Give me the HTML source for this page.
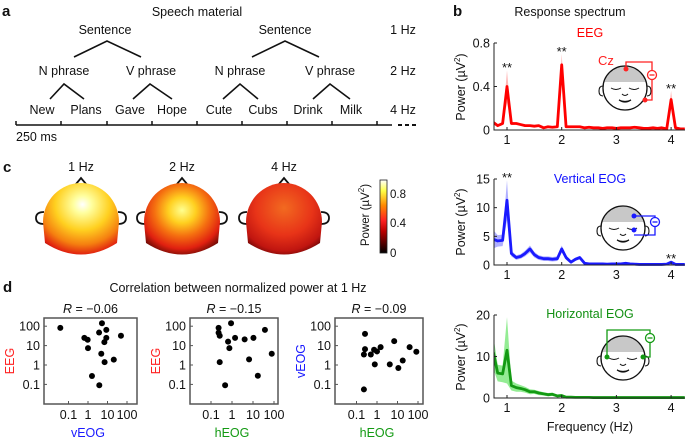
<!DOCTYPE html>
<html><head><meta charset="utf-8">
<style>
html,body{margin:0;padding:0;background:#fff;}
svg{display:block;font-family:"Liberation Sans",Arial,sans-serif;}
text{fill:#111;}
</style></head>
<body>
<svg id="fig" width="685" height="438" viewBox="0 0 685 438">
<defs>
<linearGradient id="hot" x1="0" y1="1" x2="0" y2="0">
<stop offset="0" stop-color="#000"/><stop offset="0.3" stop-color="#b00"/><stop offset="0.45" stop-color="#f22"/><stop offset="0.65" stop-color="#f80"/><stop offset="0.85" stop-color="#ff4"/><stop offset="1" stop-color="#fff"/>
</linearGradient>
<radialGradient id="g1" cx="0.52" cy="0.3" r="0.8">
<stop offset="0" stop-color="#fff"/><stop offset="0.15" stop-color="#ffffa0"/><stop offset="0.45" stop-color="#ffd020"/><stop offset="0.7" stop-color="#f58010"/><stop offset="0.88" stop-color="#e02010"/><stop offset="1" stop-color="#600"/>
</radialGradient>
<radialGradient id="g2" cx="0.5" cy="0.38" r="0.72">
<stop offset="0" stop-color="#ffff90"/><stop offset="0.25" stop-color="#ffd020"/><stop offset="0.5" stop-color="#f57010"/><stop offset="0.75" stop-color="#e02010"/><stop offset="1" stop-color="#300"/>
</radialGradient>
<radialGradient id="g3" cx="0.5" cy="0.35" r="0.75">
<stop offset="0" stop-color="#f26a20"/><stop offset="0.5" stop-color="#e83418"/><stop offset="0.8" stop-color="#c01510"/><stop offset="1" stop-color="#400"/>
</radialGradient>
</defs>

<!-- Panel a -->
<g>
<text x="2" y="16" font-size="15" font-weight="bold">a</text>
<text x="197" y="16" font-size="12.5" text-anchor="middle">Speech material</text>
<g font-size="12.5" text-anchor="middle">
<text x="105" y="34">Sentence</text>
<text x="285" y="34">Sentence</text>
<text x="403" y="34">1 Hz</text>
<text x="64" y="75">N phrase</text>
<text x="151" y="75">V phrase</text>
<text x="240" y="75">N phrase</text>
<text x="330" y="75">V phrase</text>
<text x="403" y="75">2 Hz</text>
<text x="42" y="114">New</text>
<text x="86" y="114">Plans</text>
<text x="130" y="114">Gave</text>
<text x="172" y="114">Hope</text>
<text x="219" y="114">Cute</text>
<text x="263" y="114">Cubs</text>
<text x="308" y="114">Drink</text>
<text x="351" y="114">Milk</text>
<text x="403" y="114">4 Hz</text>
</g>
<g stroke="#111" stroke-width="1.6" fill="none">
<path d="M74,57 L107,41 L141,57"/><path d="M252,57 L285,41 L319,57"/>
<path d="M50,99 L64,84 L84,99"/><path d="M133,99 L150,84 L172,99"/>
<path d="M223,99 L240,84 L258,99"/><path d="M313,99 L330,84 L350,99"/>
</g>
<g stroke="#111" stroke-width="1.5">
<line x1="16" y1="125" x2="392" y2="125"/>
<path d="M16,121V125M61,121V125M107,121V125M152,121V125M197,121V125M242,121V125M287,121V125M332,121V125M377,121V125"/>
<path d="M398,125H402M405,125H409M412,125H416" stroke-width="2"/>
</g>
<text x="16" y="141" font-size="12.5">250 ms</text>
</g>

<!-- Panel b -->
<g>
<text x="453" y="16" font-size="15" font-weight="bold">b</text>
<text x="570" y="16" font-size="12.5" text-anchor="middle">Response spectrum</text>
<text x="590" y="37" font-size="12.5" text-anchor="middle" style="fill:#f00">EEG</text>
<text x="590" y="183" font-size="12.5" text-anchor="middle" style="fill:#1010ff">Vertical EOG</text>
<text x="590" y="318" font-size="12.5" text-anchor="middle" style="fill:#139013">Horizontal EOG</text>
<text transform="translate(465,87) rotate(-90)" font-size="12.5" text-anchor="middle">Power (µV<tspan font-size="8" dy="-5">2</tspan><tspan dy="5">)</tspan></text>
<text transform="translate(465,222) rotate(-90)" font-size="12.5" text-anchor="middle">Power (µV<tspan font-size="8" dy="-5">2</tspan><tspan dy="5">)</tspan></text>
<text transform="translate(465,357) rotate(-90)" font-size="12.5" text-anchor="middle">Power (µV<tspan font-size="8" dy="-5">2</tspan><tspan dy="5">)</tspan></text>
<text x="590" y="431" font-size="12.5" text-anchor="middle">Frequency (Hz)</text>
<g id="spectra"></g>
<g id="faces"></g>
</g>

<!-- Panel c -->
<g>
<text x="3" y="172" font-size="15" font-weight="bold">c</text>
<g id="heads"></g>
<rect x="380" y="180" width="7" height="73" fill="url(#hot)" stroke="#222" stroke-width="0.8"/>
<g font-size="11.5">
<text x="390" y="198">0.8</text>
<text x="390" y="227">0.4</text>
<text x="390" y="257">0</text>
</g>
<text transform="translate(369,215) rotate(-90)" font-size="11.5" text-anchor="middle">Power (µV<tspan font-size="8" dy="-5">2</tspan><tspan dy="5">)</tspan></text>
</g>

<!-- Panel d -->
<g>
<text x="3" y="292" font-size="15" font-weight="bold">d</text>
<text x="238" y="292" font-size="12.5" text-anchor="middle">Correlation between normalized power at 1 Hz</text>
<g id="scatters"></g>
</g>
</svg>
<script>
const NS="http://www.w3.org/2000/svg";
function mk(tag,attrs,parent){const e=document.createElementNS(NS,tag);for(const k in attrs)e.setAttribute(k,attrs[k]);parent.appendChild(e);return e;}

// ---- Spectrum data ----
const freqs=[0.75,0.83,0.92,1,1.08,1.17,1.25,1.33,1.42,1.5,1.58,1.67,1.75,1.83,1.92,2,2.08,2.17,2.25,2.33,2.42,2.5,2.58,2.67,2.75,2.83,2.92,3,3.08,3.17,3.25,3.33,3.42,3.5,3.58,3.67,3.75,3.83,3.92,4,4.08,4.17,4.25];
const eegPower=[0.07,0.04,0.06,0.40,0.06,0.06,0.05,0.04,0.04,0.035,0.04,0.02,0.03,0.025,0.03,0.60,0.03,0.03,0.03,0.03,0.02,0.025,0.02,0.02,0.015,0.02,0.02,0.015,0.02,0.02,0.02,0.025,0.02,0.015,0.015,0.02,0.015,0.02,0.01,0.28,0.02,0.01,0.01];
const eegErr=[0.02,0.01,0.015,0.15,0.015,0.01,0.01,0.01,0.01,0.01,0.01,0.01,0.01,0.01,0.01,0.10,0.01,0.01,0.01,0.01,0.01,0.01,0.01,0.01,0.01,0.01,0.01,0.01,0.01,0.01,0.01,0.01,0.01,0.01,0.01,0.01,0.01,0.01,0.01,0.08,0.01,0.01,0.01];
const veogPower=[4.5,4.2,4.3,11.3,2.0,1.3,1.5,2.0,2.8,1.8,1.3,1.1,1.1,1.0,1.1,2.8,1.3,0.5,1.0,1.3,0.3,0.2,0.2,0.2,0.2,0.15,0.2,0.2,0.2,0.3,0.2,0.15,0.1,0.1,0.1,0.1,0.1,0.1,0.15,0.5,0.1,0.1,0.1];
const veogErr=[1.6,1.0,1.0,3.5,0.5,0.4,0.4,0.5,0.6,0.5,0.4,0.4,0.4,0.4,0.4,0.6,0.4,0.3,0.3,0.3,0.2,0.15,0.1,0.1,0.1,0.1,0.1,0.1,0.1,0.1,0.1,0.1,0.1,0.1,0.1,0.1,0.1,0.1,0.1,0.2,0.1,0.1,0.1];
const heogPower=[11,6,5.8,11.5,3,2.5,2.3,2.0,1.5,1.5,1.2,1.0,0.8,0.9,0.5,0.6,0.2,0.2,0.15,0.15,0.15,0.15,0.1,0.1,0.1,0.1,0.1,0.1,0.1,0.1,0.1,0.1,0.1,0.1,0.1,0.1,0.1,0.1,0.1,0.1,0.1,0.1,0.1];
const heogErr=[4,2,2,8,1.2,1,0.8,0.7,0.6,0.5,0.5,0.4,0.4,0.4,0.3,0.3,0.2,0.15,0.1,0.1,0.1,0.1,0.1,0.1,0.1,0.1,0.1,0.1,0.1,0.1,0.1,0.1,0.1,0.1,0.1,0.1,0.1,0.1,0.1,0.1,0.1,0.1,0.1];
const freqTicks=[1,2,3,4];
const eegTicks=[0,0.4,0.8];
const veogTicks=[0,5,10,15];
const heogTicks=[0,10,20];
const eegStars=[1,2,4];
const veogStars=[1,4];

const xF=f=>507+(f-1)*54.7;
const spec=document.getElementById('spectra');
function panel(name,y0,y1,ymax,ticks,vals,errs,col,shade,stars){
  const yF=v=>y0-(v/ymax)*(y0-y1);
  const g=mk('g',{},spec);
  
  
  const clip=mk('clipPath',{id:'c'+name},g);mk('rect',{x:494,y:y1-10,width:191,height:y0-y1+12},clip);
  let up='',dn='';
  freqs.forEach((f,i)=>{up+=(i?'L':'M')+xF(f)+','+yF(vals[i]+errs[i]);});
  for(let i=freqs.length-1;i>=0;i--){dn+='L'+xF(freqs[i])+','+Math.min(y0,yF(Math.max(0,vals[i]-errs[i])));}
  const sh=mk('path',{d:up+dn+'Z',fill:shade,'clip-path':'url(#c'+name+')'},g);
  
  
  let d='';freqs.forEach((f,i)=>{d+=(i?'L':'M')+xF(f)+','+yF(vals[i]);});
  const ln=mk('path',{d:d,fill:'none',stroke:col,'stroke-width':2.8,'stroke-linejoin':'round','clip-path':'url(#c'+name+')'},g);
  
  
  const ax=mk('path',{d:'M494,'+(y1)+'V'+y0+'H685',fill:'none',stroke:'#222','stroke-width':1},g);
  
  
  ticks.forEach(t=>{
    mk('line',{x1:494,x2:497,y1:yF(t),y2:yF(t),stroke:'#222'},g);
    const tx=mk('text',{x:490,y:yF(t)+4.5,'font-size':12.5,'text-anchor':'end'},g);tx.textContent=t;
    
    
  });
  freqTicks.forEach(f=>{
    mk('line',{x1:xF(f),x2:xF(f),y1:y0,y2:y0-3,stroke:'#222'},g);
    const tx=mk('text',{x:xF(f),y:y0+14,'font-size':12.5,'text-anchor':'middle'},g);tx.textContent=f;
    
    
  });
  stars.forEach(f=>{
    const i=freqs.indexOf(f);
    const yy=yF(vals[i]+errs[i])-4;
    const s=mk('text',{x:xF(f),y:yy+6,'font-size':13,'text-anchor':'middle'},g);s.textContent='**';
    
    
  });
}
panel('eeg',130,43,0.8,eegTicks,eegPower,eegErr,'#f00','rgba(255,80,80,0.4)',eegStars);
panel('veog',265,179,15,veogTicks,veogPower,veogErr,'#1a1aff','rgba(80,80,255,0.45)',veogStars);
panel('heog',398,315,20,heogTicks,heogPower,heogErr,'#139a13','rgba(60,220,60,0.55)',[]);

// ---- faces ----
const faces=document.getElementById('faces');
function face(cx,cy,nm){
  const g=mk('g',{},faces);
  
  
  mk('path',{d:`M${cx-21},${cy-6} A22,22 0 0 1 ${cx+21},${cy-6} Z`,fill:'#c8c8c8'},g);
  mk('circle',{cx:cx,cy:cy,r:22,fill:'none',stroke:'#111','stroke-width':1.3},g);
  mk('path',{d:`M${cx-22},${cy-2} q-4,0 -4,5 q0,5 4,5 M${cx+22},${cy-2} q4,0 4,5 q0,5 -4,5`,fill:'none',stroke:'#111','stroke-width':1.1},g);
  mk('path',{d:`M${cx-14},${cy} q5,3 10,0 M${cx+4},${cy} q5,3 10,0`,fill:'none',stroke:'#111','stroke-width':1},g);
  mk('path',{d:`M${cx-3},${cy+6} q3,3 6,0`,fill:'none',stroke:'#111','stroke-width':1},g);
  mk('path',{d:`M${cx-6},${cy+12} q6,4 12,0 q-6,3 -12,0`,fill:'#111',stroke:'#111','stroke-width':1.2},g);
}
face(625,88,'eeg-electrode-face');face(623,228,'veog-electrode-face');face(623,358,'heog-electrode-face');
function wire(d,col,mx,my,dots,nm){
  const g=mk('g',{},faces);
  
  
  mk('path',{d:d,fill:'none',stroke:col,'stroke-width':1.3},g);
  mk('circle',{cx:mx,cy:my,r:4.5,fill:'#fff',stroke:col,'stroke-width':1.3},g);
  mk('line',{x1:mx-2.5,x2:mx+2.5,y1:my,y2:my,stroke:col,'stroke-width':1.3},g);
  dots.forEach(p=>mk('circle',{cx:p[0],cy:p[1],r:2.5,fill:col},g));
}
wire('M626,69V62H652V100H645','#f22',652,75,[[626,69],[645,100]],'eeg-montage');
wire('M634,216H655V235H634','#1a1aff',655,222,[[634,216],[634,230]],'veog-montage');
wire('M607,357V330H650V357H643','#139a13',650,338,[[607,357],[643,357]],'heog-montage');
const cz=mk('text',{x:598,y:65,'font-size':13,style:'fill:#f22'},faces);cz.textContent='Cz';



// ---- topographic heads ----
const headFreqs=['1 Hz','2 Hz','4 Hz'];
const headCenters=[81,182,284];
const headFills=['url(#g1)','url(#g2)','url(#g3)'];
const heads=document.getElementById('heads');
headFreqs.forEach((lab,i)=>{
  const cx=headCenters[i];
  const g=mk('g',{},heads);
  
  
  const t=mk('text',{x:cx,y:171,'font-size':12.5,'text-anchor':'middle'},g);t.textContent=lab;
  mk('path',{d:`M${cx-5},184 L${cx},178 L${cx+5},184`,fill:'none',stroke:'#111','stroke-width':1.8},g);
  mk('path',{d:`M${cx-37},212 q-8,0 -8,6 q0,6 8,6 M${cx+37},212 q8,0 8,6 q0,6 -8,6`,fill:'none',stroke:'#111','stroke-width':1.8},g);
  mk('path',{d:`M${cx-38},222 A38,39 0 0 1 ${cx+38},222 L${cx+36},243 Q${cx},266 ${cx-36},243 Z`,fill:headFills[i]},g);
});

// ---- scatter data ----
const s1x=[0.038,0.65,0.96,1,3.7,5.2,4.8,6.9,8.7,8.7,7.1,1.6,3.8,21,49];
const s1y=[82,25,20,7.4,47,142,3.8,15,65,25,1.4,0.27,0.09,1.9,32];
const s2x=[0.23,0.23,0.26,0.9,0.65,0.75,1.4,4,10.5,37,0.26,6.5,78,17,0.47];
const s2y=[82,46,32,142,16,7.4,25,21,25,65,1.4,1.95,3.8,0.28,0.09];
const s3x=[0.26,0.26,0.23,0.5,0.72,1,1.5,6.9,39,83,0.78,4.2,11,18,0.23];
const s3y=[40,6.6,3.5,3.5,6.1,5,8.4,17,8.4,4.8,1.08,1.08,0.7,1.7,0.055];
const logTicks=[0.1,1,10,100];
const rLabels=['−0.06','−0.15','−0.09'];
const yNames=['EEG','EEG','vEOG'];
const xNames=['vEOG','hEOG','hEOG'];
const nameCol={EEG:'#f22',vEOG:'#1a1aff',hEOG:'#139a13'};
const boxes=[{l:44,r:137,one:88,dec:19.5},{l:190,r:278,one:232,dec:21},{l:335,r:423,one:377,dec:20.5}];
const sx=[s1x,s2x,s3x],sy=[s1y,s2y,s3y];
const sc=document.getElementById('scatters');
const yOne=365,yDec=19.4;
boxes.forEach((b,k)=>{
  const g=mk('g',{},sc);
  
  
  const X=v=>b.one+Math.log10(v)*b.dec, Y=v=>yOne-Math.log10(v)*yDec;
  const rect=mk('rect',{x:b.l,y:318,width:b.r-b.l,height:86,fill:'none',stroke:'#555','stroke-width':1.5},g);
  
  
  logTicks.forEach(t=>{
    mk('line',{x1:b.l,x2:b.l+3,y1:Y(t),y2:Y(t),stroke:'#555'},g);
    mk('line',{x1:X(t),x2:X(t),y1:404,y2:401,stroke:'#555'},g);
    const ty=mk('text',{x:b.l-4,y:Y(t)+4.5,'font-size':12.5,'text-anchor':'end'},g);ty.textContent=t;
    
    
    const tx=mk('text',{x:X(t),y:419,'font-size':12.5,'text-anchor':'middle'},g);tx.textContent=t;
    
    
  });
  sx[k].forEach((v,i)=>{
    const c=mk('circle',{cx:X(v),cy:Y(sy[k][i]),r:3,fill:'#000'},g);
    
    
  });
  const rt=mk('text',{x:(b.l+b.r)/2,y:313,'font-size':12.5,'text-anchor':'middle'},g);
  rt.innerHTML='<tspan font-style="italic">R</tspan> = '+rLabels[k];
  
  
  const yl=mk('text',{transform:`translate(${b.l-30},361) rotate(-90)`,'font-size':12.5,'text-anchor':'middle',style:'fill:'+nameCol[yNames[k]]},g);yl.textContent=yNames[k];
  
  
  const xl=mk('text',{x:b.one,y:437,'font-size':12.5,'text-anchor':'middle',style:'fill:'+nameCol[xNames[k]]},g);xl.textContent=xNames[k];
  
  
});
</script>
</body></html>
